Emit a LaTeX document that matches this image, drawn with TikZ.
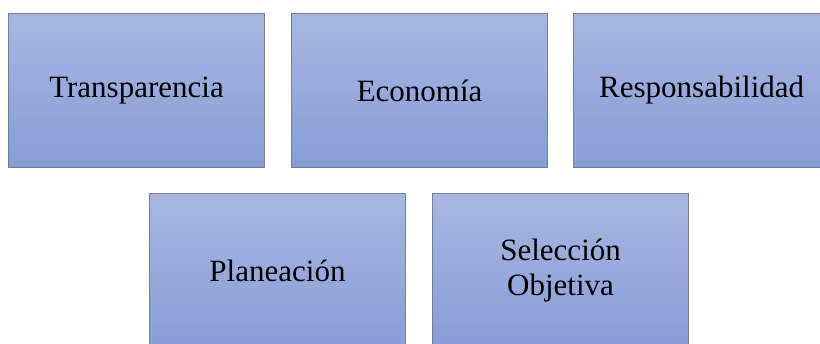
\documentclass[tikz,border=0pt]{standalone}
\usepackage{fontspec}
\setmainfont{Liberation Serif}
\usepackage{tikz}
\usetikzlibrary{positioning, shadows}
\definecolor{boxTop}{RGB}{168,182,225}
\definecolor{boxBottom}{RGB}{136,157,215}
\definecolor{boxLine}{RGB}{118,126,146}
\tikzset{principle/.style={rectangle, draw=boxLine, line width=1.1pt, top color=boxTop, bottom color=boxBottom, minimum width=256pt, minimum height=154pt, align=center, font=\fontsize{31}{35}\selectfont, inner sep=0pt, drop shadow={shadow xshift=0.8pt, shadow yshift=-0.8pt, fill=black!45, opacity=0.6}}}

\begin{document}
\begin{tikzpicture}[x=1pt, y=1pt, node distance=26pt]
\useasboundingbox (0,0) rectangle (820,-344);
\clip (0,0) rectangle (820,-344);
\node[principle] (transp) at (136.5,-90.5) {Transparencia};
\node[principle, right=of transp] (econ) {Economía};
\node[principle, right=25pt of econ] (resp) {Responsabilidad};
\node[principle] (plan) at (277.5,-270.5) {Planeación};
\node[principle, right=of plan] (selec) {Selección\\Objetiva};
\end{tikzpicture}
\end{document}
